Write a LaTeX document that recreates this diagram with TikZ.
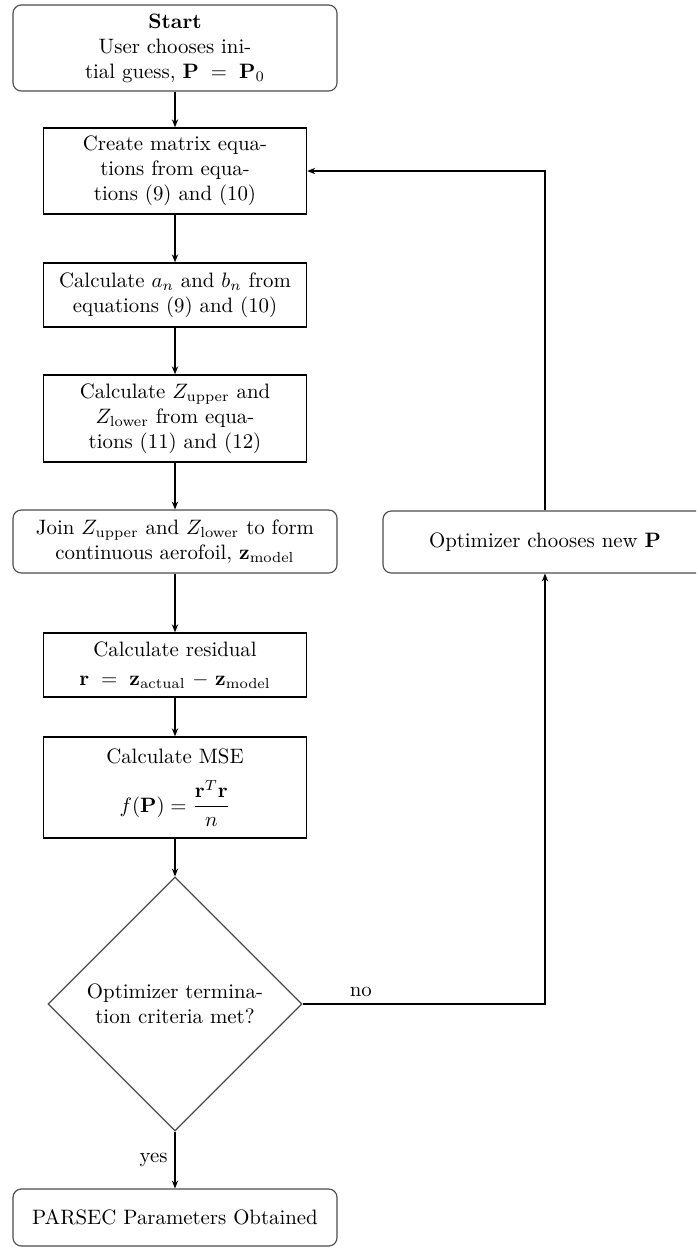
\documentclass[tikz,border=0pt]{standalone}
\usepackage{amsmath}
\usetikzlibrary{shapes.geometric,arrows.meta,calc}
\begin{document}
\begin{tikzpicture}[x=0.48pt,y=-0.48pt,
  every node/.style={font=\normalsize},
  procbox/.style={draw=black,line width=0.7pt,rectangle,minimum width=126.24pt,inner sep=0pt,align=center,text width=120pt},
  roundbox/.style={draw=black!70,line width=0.55pt,rectangle,rounded corners=4pt,minimum width=155.52pt,inner sep=0pt,align=center,text width=150pt},
  decbox/.style={draw=black!70,line width=0.55pt,diamond,minimum width=121.92pt,minimum height=121.92pt,inner sep=0pt,align=center},
  flow/.style={-{Stealth[length=3.8pt,width=3pt]},line width=0.6pt,black},
  lbl/.style={font=\normalsize,inner sep=3.3pt}
]
\useasboundingbox (0,0) rectangle (696,1247);
\clip (0,0) rectangle (696,1247);

\node[roundbox,minimum height=41.28pt] (start) at (175,48)
  {\textbf{Start}\\User chooses ini-\\tial guess, \mbox{$\mathbf{P}\kern3pt=\kern3pt\mathbf{P}_0$}};
\node[procbox,minimum height=41.28pt] (create) at (175,171)
  {Create matrix equa-\\tions from equa-\\tions (9) and (10)};
\node[procbox,minimum height=30.72pt] (calcab) at (175,295)
  {Calculate $a_n$ and $b_n$ from\\equations (9) and (10)};
\node[procbox,minimum height=41.76pt] (calcz) at (175,418.5)
  {Calculate $Z_{\mathrm{upper}}$ and\\$Z_{\mathrm{lower}}$ from equa-\\tions (11) and (12)};
\node[roundbox,minimum height=30.24pt] (join) at (175,541.5)
  {Join $Z_{\mathrm{upper}}$ and $Z_{\mathrm{lower}}$ to form\\continuous aerofoil, $\mathbf{z}_{\mathrm{model}}$};
\node[procbox,minimum height=30.72pt] (resid) at (175,665)
  {Calculate residual\\[2pt]\mbox{$\mathbf{r}\kern3pt=\kern3pt\mathbf{z}_{\mathrm{actual}}\kern1pt-\kern1pt\mathbf{z}_{\mathrm{model}}$}};
\node[procbox,minimum height=48.48pt] (mse) at (175,787.5)
  {Calculate MSE\\[7pt]\mbox{$\displaystyle f(\mathbf{P})=\frac{\mathbf{r}^T\mathbf{r}}{n}$}};
\node[decbox] (dec) at (175,1004)
  {Optimizer termina-\\tion criteria met?};
\node[roundbox,minimum height=27.36pt] (parsec) at (175,1217.5)
  {PARSEC Parameters Obtained};
\node[roundbox,minimum height=29.76pt] (opt) at (545,542)
  {Optimizer chooses new $\mathbf{P}$};

\draw[flow] (start) -- (create);
\draw[flow] (create) -- (calcab);
\draw[flow] (calcab) -- (calcz);
\draw[flow] (calcz) -- (join);
\draw[flow] (join) -- (resid);
\draw[flow] (resid) -- (mse);
\draw[flow] (mse) -- (dec);
\draw[flow] (dec.south) -- node[lbl,left] {yes} (parsec.north);
\draw[flow] (dec.east) -- node[lbl,above,pos=0.24] {no} (opt.south |- dec.east) -- (opt.south);
\draw[flow] (opt.north) -- (opt.north |- create.east) -- (create.east);
\end{tikzpicture}
\end{document}
